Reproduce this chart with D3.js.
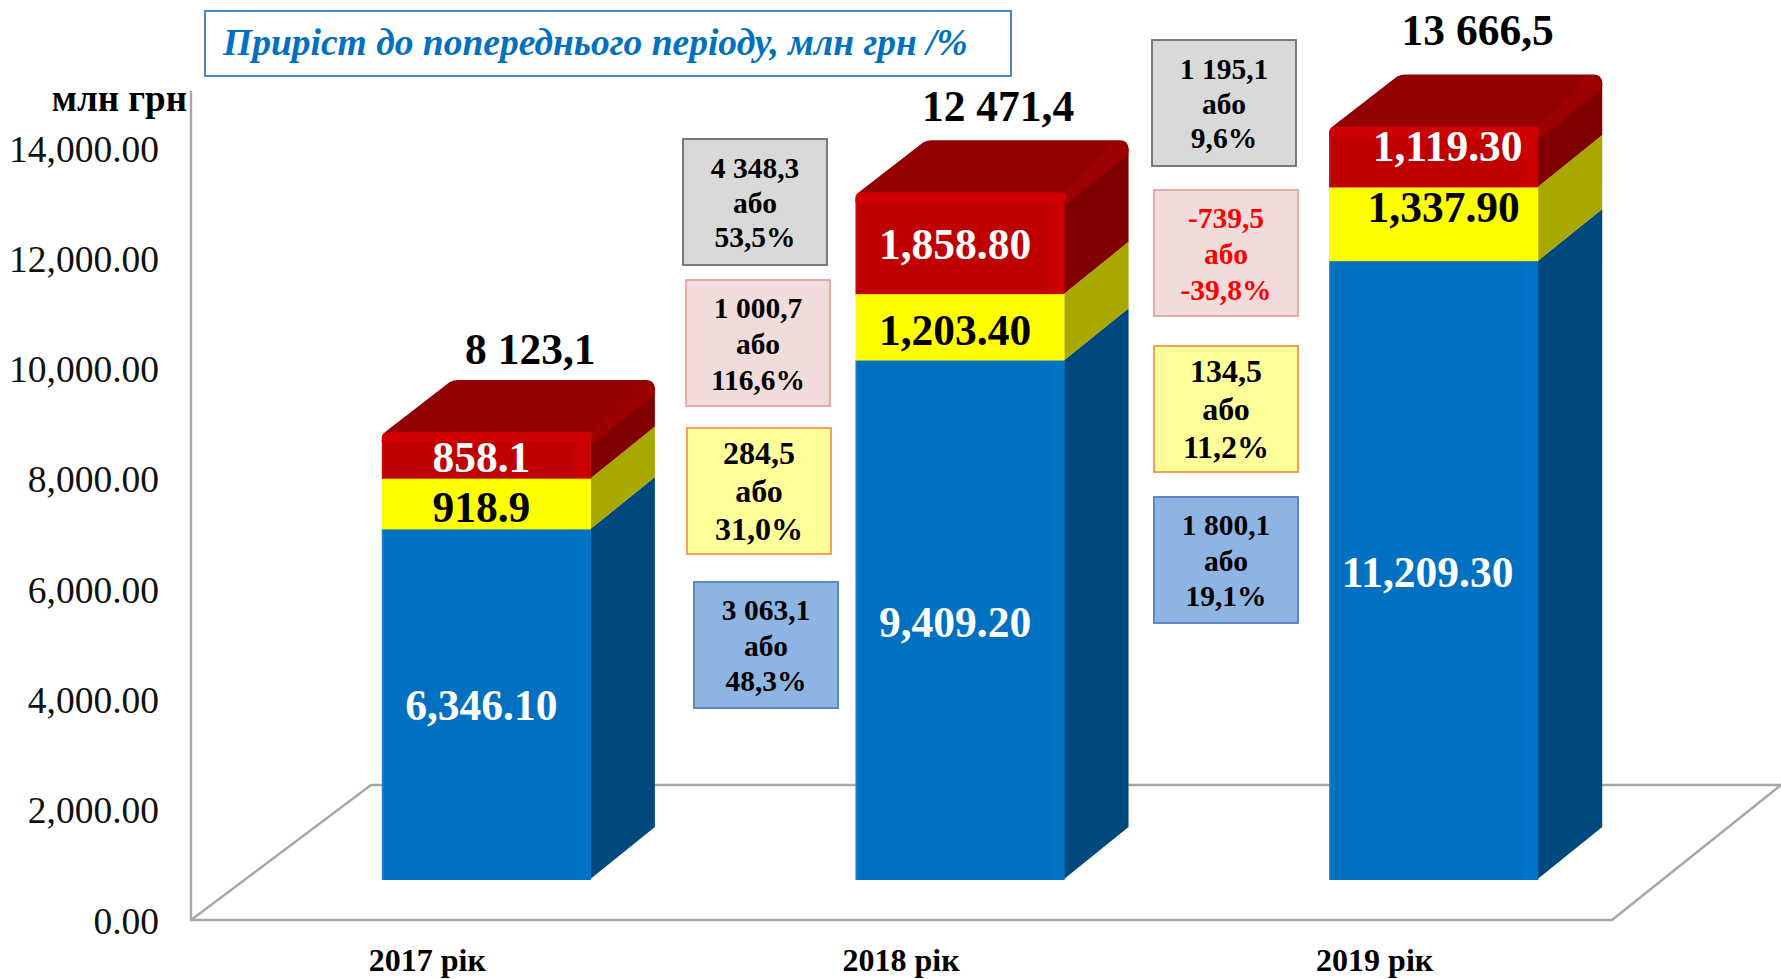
<!DOCTYPE html>
<html><head><meta charset="utf-8">
<script src="https://cdnjs.cloudflare.com/ajax/libs/d3/7.8.5/d3.min.js"></script>
<style>html,body{margin:0;padding:0;background:#fff;overflow:hidden}svg{display:block}text{font-family:"Liberation Serif",serif}</style>
</head><body><svg id="c" width="1781" height="979"></svg>
<script>
const categories = ["2017 рік","2018 рік","2019 рік"];
const blue   = [6346.1, 9409.2, 11209.3];
const yellow = [918.9, 1203.4, 1337.9];
const red    = [858.1, 1858.8, 1119.3];
const yearIndex = [0,1,2];
const totals = ["8 123,1","12 471,4","13 666,5"];
const yTicks = [0,2000,4000,6000,8000,10000,12000,14000];
const titleText = "Приріст до попереднього періоду, млн грн /%";
const unitText = "млн грн";
const growthGrey   = [["4 348,3","або","53,5%"],["1 195,1","або","9,6%"]];
const growthPink   = [["1 000,7","або","116,6%"],["-739,5","або","-39,8%"]];
const growthYellow = [["284,5","або","31,0%"],["134,5","або","11,2%"]];
const growthBlue   = [["3 063,1","або","48,3%"],["1 800,1","або","19,1%"]];

// layout
const svg = d3.select("#c");
const floorL=191, floorR=1612, floorY=920, topY=148, wallTop=91;
const backDx=180, backDy=135, frontLift=41, frontShift=58.5, sideDx=64, sideDy=52;
const x = d3.scaleBand().domain(yearIndex).range([floorL,floorR]).paddingInner(0.5585).paddingOuter(0.27925);
const y = d3.scaleLinear().domain([0,14000]).range([floorY,topY]);
const fy = v => y(v)-frontLift;
const bw = x.bandwidth();
const fx = i => x(i)+frontShift;

const defs = svg.append("defs");
defs.append("filter").attr("id","soft").attr("x","-5%").attr("y","-5%").attr("width","110%").attr("height","110%")
  .append("feGaussianBlur").attr("stdDeviation",0.6);
const palette = [
 {key:"blue",  front:"#0070C0", hi:"#0074C8", edge:"#2a86c8", side:"#004A7F"},
 {key:"yellow",front:"#FFFF00", hi:"#FFFF00", edge:"#f4f430", side:"#A8A800"},
 {key:"red",   front:"#C00000", hi:"#CA0000", edge:"#c81010", side:"#800000"}];
palette.forEach(p=>{
  const g=defs.append("linearGradient").attr("id","f-"+p.key);
  [[0,p.edge],[0.012,p.front],[0.90,p.front],[0.95,p.hi],[0.985,p.hi],[1,p.front]].forEach(s=>
    g.append("stop").attr("offset",s[0]).attr("stop-color",s[1]));
});

// walls and floor
const frame = svg.append("g").attr("fill","none").attr("stroke","#A6A6A6").attr("stroke-width",2.4).attr("filter","url(#soft)");
frame.append("path").attr("d",d3.line()([[floorL,wallTop],[floorL,floorY],[floorR,floorY],[floorR+backDx-11,floorY-backDy]]));
frame.append("path").attr("d",d3.line()([[floorL,floorY],[floorL+backDx,floorY-backDy],[1781,floorY-backDy]]));

// bars
const stack = d3.stack().keys([0,1,2]).value((d,k)=>[blue,yellow,red][k][d]);
const layers = stack(yearIndex);
const bars = svg.append("g").attr("filter","url(#soft)");
layers.forEach((layer,k)=>{
  const p=palette[k];
  const inset = k===2 ? 8 : 0;
  const g=bars.append("g");
  g.selectAll("path.side").data(layer).join("path").attr("class","side").attr("fill",p.side)
    .attr("d",(d,i)=>{const xr=fx(i)+bw;return d3.line()([[xr-0.5,fy(d[0])],[xr+sideDx,fy(d[0])-sideDy],[xr+sideDx,fy(d[1])-sideDy+inset],[xr-0.5,fy(d[1])+inset]]);});
  g.selectAll("rect.front").data(layer).join("rect").attr("class","front").attr("fill",`url(#f-${p.key})`)
    .attr("x",(d,i)=>fx(i)).attr("width",bw).attr("y",d=>fy(d[1])+inset).attr("height",d=>fy(d[0])-fy(d[1])+(k===0?1:0.3)-inset);
});
// top faces and rounded bevels
const tops = bars.append("g");
layers[2].forEach((d,i)=>{
  const l=fx(i), r=l+bw, t=fy(d[1])+1, R=r+sideDx, b=t-sideDy;
  tops.append("path").attr("fill","#930000")
    .attr("d",`M${l},${t+6} Q${l+1},${t+1} ${l+6},${t-2} L${l+68},${b+2} Q${l+72},${b} ${l+76},${b} L${R-9},${b} Q${R},${b} ${R},${b+9} L${R},${b+12} L${r},${t+9} L${r-6},${t+3} Z`);
  tops.append("path").attr("fill","#9C0000")
    .attr("d",`M${r-3},${t+2} L${R-16},${b+1} L${R-5},${b+5} L${R},${b+14} L${r+2},${t+12} Z`);
  tops.append("path").attr("fill","#CE0000")
    .attr("d",`M${l},${t+10} L${l},${t+6} Q${l},${t} ${l+6},${t} L${r-4},${t} Q${r+1},${t} ${r+2},${t+5} L${r-1},${t+10} Z`);
});

// y axis
const yAxis = d3.axisLeft(y).tickValues(yTicks).tickFormat(d3.format(",.2f")).tickSize(0).tickPadding(32);
const ax = svg.append("g").attr("transform",`translate(${floorL},1)`).call(yAxis);
ax.select(".domain").remove();
ax.selectAll("text").attr("font-size",37.5).attr("fill","#111").style("font-family",'"Liberation Serif",serif');

// unit, title
svg.append("text").attr("x",187).attr("y",111).attr("text-anchor","end").attr("font-size",37).attr("font-weight","bold").text(unitText);
svg.append("rect").attr("x",205).attr("y",11).attr("width",806).attr("height",65).attr("fill","#fff").attr("stroke","#4A86C8").attr("stroke-width",2);
svg.append("text").attr("x",223).attr("y",55).attr("font-size",37.5).attr("font-weight","bold").attr("font-style","italic").attr("fill","#0070C0").text(titleText);

// x labels
svg.append("g").selectAll("text").data(categories).join("text")
  .attr("x",(d,i)=>x(i)+bw/2-0.5).attr("y",971).attr("text-anchor","middle").attr("font-size",32).attr("font-weight","bold").text(d=>d);

// value labels
const fmtVal = v => d3.format(",.2f")(v);
const labelText = [
  blue.map(fmtVal),
  yellow.map((v,i)=> i===0 ? d3.format(",.1f")(v) : fmtVal(v)),
  red.map((v,i)=> i===0 ? d3.format(",.1f")(v) : fmtVal(v))];
const labelColor = ["#fff","#000","#fff"];
const labelDx = [[-5,-5,-6],[-5,-5,10],[-5,-5,14]];
const labelDy = [[1,3,2],[3,3,-17],[2,2,-10]];
layers.forEach((layer,k)=>{
  svg.append("g").selectAll("text").data(layer).join("text")
    .attr("x",(d,i)=>fx(i)+bw/2+labelDx[k][i])
    .attr("y",(d,i)=>(fy(d[0])+fy(d[1]))/2+labelDy[k][i])
    .attr("dy",".34em").attr("text-anchor","middle").attr("font-size",43.5).attr("font-weight","bold")
    .attr("fill",labelColor[k]).text((d,i)=>labelText[k][i]);
});
// totals
const totalDx=[44,38,44], totalLift=[82,85,95];
svg.append("g").selectAll("text").data(layers[2]).join("text")
  .attr("x",(d,i)=>fx(i)+bw/2+totalDx[i]).attr("y",(d,i)=>fy(d[1])-totalLift[i])
  .attr("dy",".34em").attr("text-anchor","middle").attr("font-size",43.5).attr("font-weight","bold").attr("fill","#000").text((d,i)=>totals[i]);

// growth boxes
const boxW=144, boxH=126;
const boxes = [
 {t:growthGrey,  fill:"#D9D9D9",stroke:"#6E6E6E",size:29.5,lh:34.5,color:"#000",pos:[[683,139],[1152,40]]},
 {t:growthPink,  fill:"#F2DCDB",stroke:"#E6A3A1",size:29.5,lh:36,color:"#000",pos:[[686,280],[1154,190]]},
 {t:growthYellow,fill:"#FFFF99",stroke:"#F79646",size:32,lh:38,color:"#000",pos:[[687,428],[1154,346]]},
 {t:growthBlue,  fill:"#8EB4E3",stroke:"#4F81BD",size:29.5,lh:35.5,color:"#000",pos:[[694,582],[1154,497]]}];
boxes.forEach((b,bi)=>{
  b.t.forEach((lines,i)=>{
    const [bx,by]=b.pos[i];
    const g=svg.append("g").attr("transform",`translate(${bx},${by})`);
    g.append("rect").attr("width",boxW).attr("height",boxH).attr("fill",b.fill).attr("stroke",b.stroke).attr("stroke-width",1.8);
    g.selectAll("text").data(lines).join("text").attr("x",boxW/2).attr("y",(d,j)=>boxH/2+(j-1)*b.lh+0.5)
      .attr("dy",".34em").attr("text-anchor","middle").attr("font-size",b.size).attr("font-weight","bold")
      .attr("fill",(bi===1&&i===1)?"#FF0000":b.color).text(d=>d);
  });
});
</script></body></html>
